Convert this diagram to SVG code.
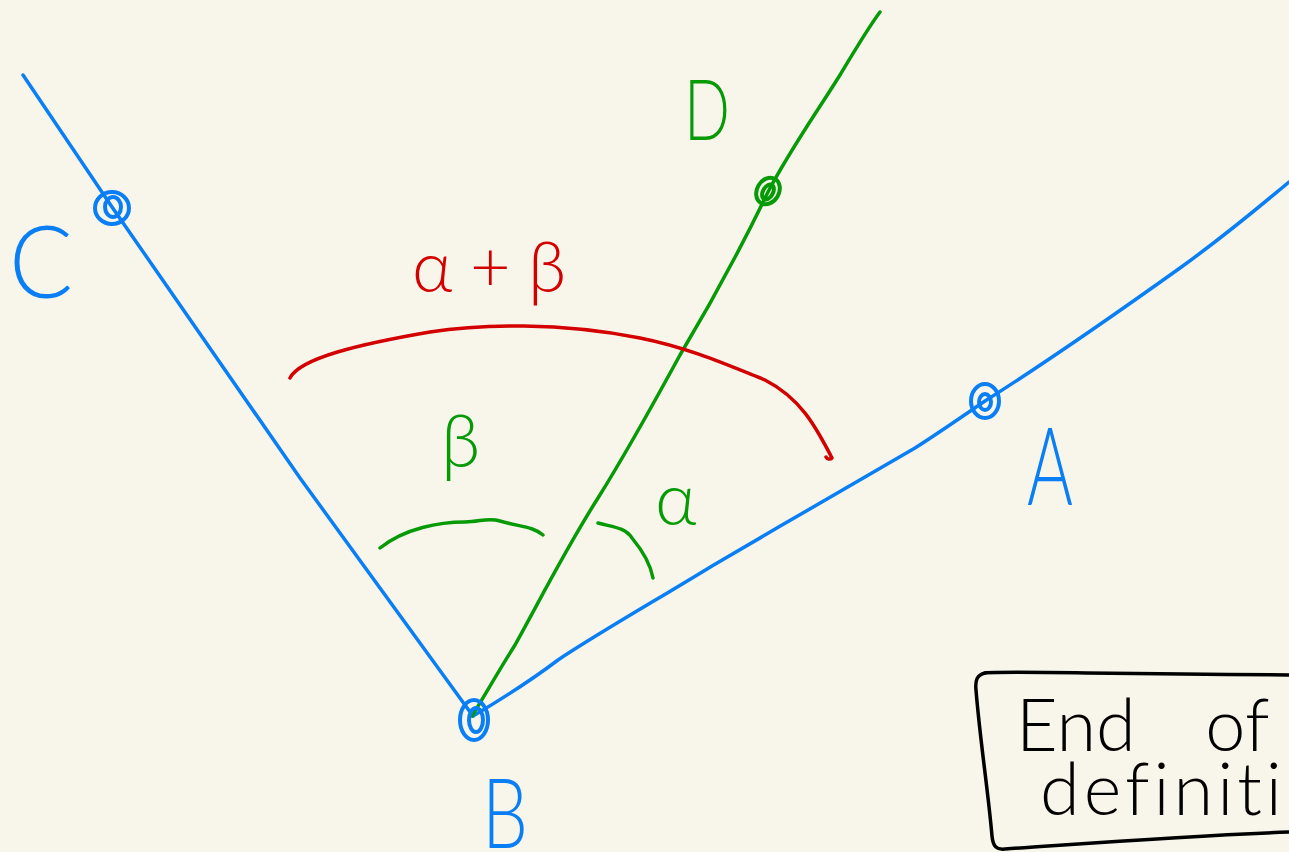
<svg xmlns="http://www.w3.org/2000/svg" width="1289" height="852" viewBox="0 0 1289 852">
<style>
.bg{fill:#f8f6eb}
.ln{fill:none;stroke-width:3.5;stroke-linecap:round;stroke-linejoin:round}
.blue{stroke:#0a7ff5}
.green{stroke:#069a06}
.red{stroke:#d40000}
.black{stroke:#000}
.mk{fill:none;stroke-width:4}
.t{font-family:"Lato","Liberation Sans",sans-serif;font-weight:300}
.tb{fill:#0a7ff5}
.tg{fill:#069a06}
.tr{fill:#d40000}
.tk{fill:#000}
</style>
<rect class="bg" x="0" y="0" width="1289" height="852"/>
<g id="connectors">
<path id="ray-BC" class="ln blue" d="M23,75 L112,207 L300,478 L473,716"/>
<path id="ray-BA" class="ln blue" d="M473,716 C500,700 525,685 558,660 C600,632 660,598 712,566 C780,526 860,480 915,448 C940,432 960,418 985,401 C1050,360 1110,318 1180,268 C1230,232 1260,206 1289,182"/>
<path id="ray-BD" class="ln green" d="M472,716 C485,695 498,672 515,645 C540,600 565,550 598,498 C625,455 650,410 680,355 C710,305 740,250 768,192 C790,150 815,115 840,75 C855,50 868,28 880,12"/>
</g>
<g id="angle-alpha-beta">
<path class="ln red" d="M290,378 C300,358 360,344 430,332 C480,324 560,322 640,338 C690,348 730,366 765,380 C800,398 815,425 832,458 C830,460 827,459 826,457"/>
<text class="t tr" y="292" font-size="70"><tspan x="412">α</tspan><tspan x="470">+</tspan><tspan x="528">β</tspan></text>
</g>
<g id="angle-beta">
<path class="ln green" d="M380,548 C405,528 440,522 465,522 C480,522 488,517 500,521 C520,527 532,526 543,535"/>
<text class="t tg" x="441" y="467" font-size="72">β</text>
</g>
<g id="angle-alpha">
<path class="ln green" d="M598,523 C612,527 625,527 632,538 C642,550 650,562 653,578"/>
<text class="t tg" x="655" y="525" font-size="72">α</text>
</g>
<g id="point-C">
<ellipse class="mk blue" cx="112" cy="208" rx="17" ry="16"/>
<ellipse class="mk blue" cx="113" cy="207" rx="8" ry="10"/>
<text class="t tb" x="9" y="298" font-size="100" textLength="64" lengthAdjust="spacingAndGlyphs">C</text>
</g>
<g id="point-D">
<ellipse class="mk green" cx="768" cy="191" rx="11" ry="14" transform="rotate(30 768 191)"/>
<ellipse class="mk green" cx="768" cy="192" rx="5" ry="8" transform="rotate(30 768 192)"/>
<text class="t tg" x="684" y="140" font-size="84" textLength="46" lengthAdjust="spacingAndGlyphs">D</text>
</g>
<g id="point-A">
<ellipse class="mk blue" cx="985" cy="401" rx="14" ry="17"/>
<ellipse class="mk blue" cx="985" cy="402" rx="6" ry="8"/>
<text class="t tb" x="1027" y="505" font-size="108" textLength="46" lengthAdjust="spacingAndGlyphs">A</text>
</g>
<g id="point-B">
<ellipse class="mk blue" cx="474" cy="720" rx="14" ry="20"/>
<ellipse class="mk blue" cx="476" cy="720" rx="7" ry="12"/>
<text class="t tb" x="482" y="848" font-size="96" textLength="46" lengthAdjust="spacingAndGlyphs">B</text>
</g>
<g id="note">
<path class="ln black" d="M985,673 C1000,671 1050,673 1289,675"/>
<path class="ln black" d="M985,673 C977,675 975,680 976,690 C980,740 988,790 992,836 C993,846 996,850 1005,849 C1080,844 1180,836 1289,832"/>
<text class="t tk" x="1016" y="751" font-size="72" word-spacing="50">End of</text>
<text class="t tk" x="1040" y="815" font-size="72" letter-spacing="4">definition</text>
</g>
</svg>
